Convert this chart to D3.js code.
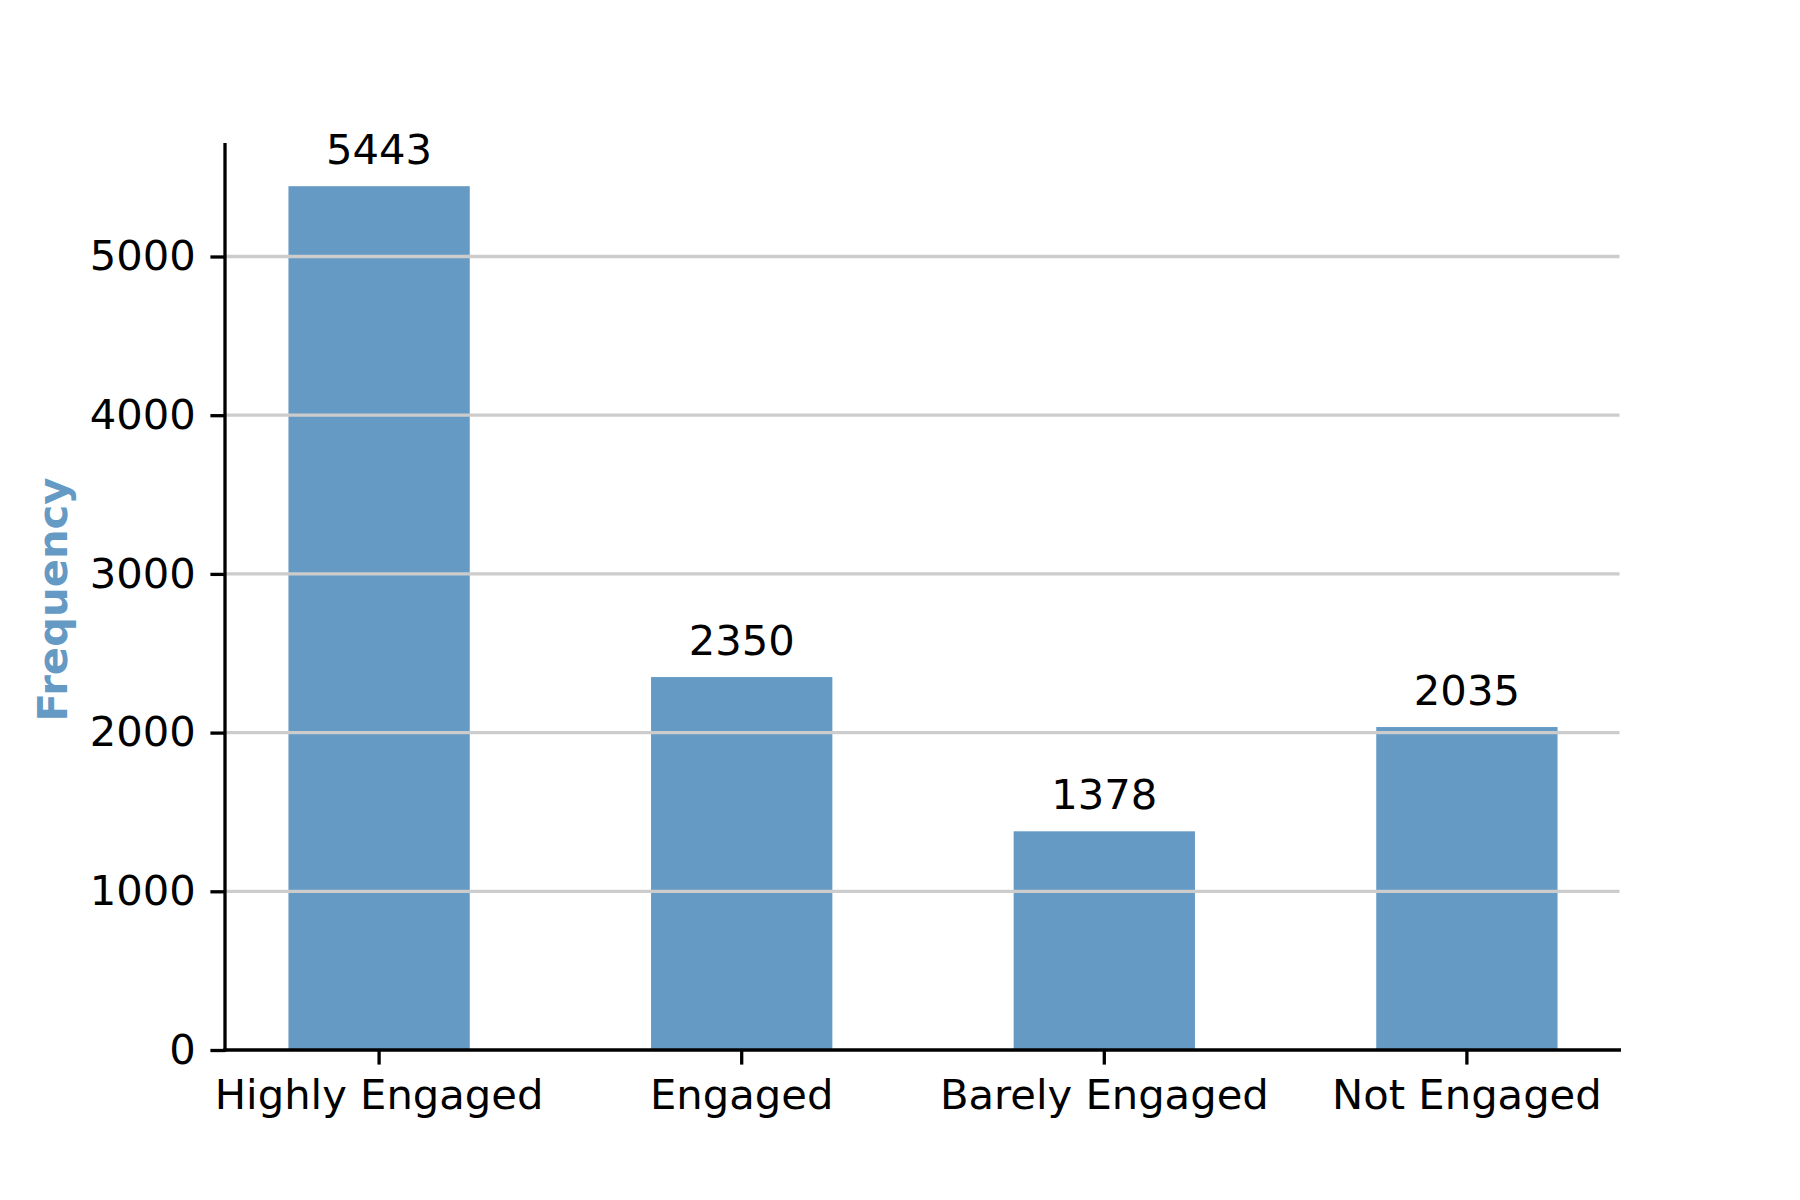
<!DOCTYPE html>
<html>
<head>
<meta charset="utf-8">
<script src="https://cdn.jsdelivr.net/npm/d3@7"></script>
<style>
  body { margin: 0; background: #fff; }
  svg { display: block; font-family: "DejaVu Sans", sans-serif; }
</style>
</head>
<body>
<div id="chart"></div>
<script>
// chart data
const categories = ["Highly Engaged", "Engaged", "Barely Engaged", "Not Engaged"];
const frequencies = [5443, 2350, 1378, 2035];
const yTicks = [0, 1000, 2000, 3000, 4000, 5000];

const width = 1800, height = 1200;
const plotLeft = 225, plotRight = 1621, plotTop = 143, plotBottom = 1050;
const fontSize = 41.7;
const barColor = "#659ac5";

const svg = d3.select("#chart").append("svg")
    .attr("width", width)
    .attr("height", height);

let x = d3.scaleBand()
    .domain(categories)
    .range([plotLeft, plotRight])
    .paddingInner(0.5)
    .paddingOuter(0.175);

let y = d3.scaleLinear()
    .domain([0, d3.max(frequencies) * 1.05])
    .range([plotBottom, plotTop]);

// bars
svg.append("g").selectAll("rect")
    .data(frequencies)
    .enter()
    .append("rect")
    .attr("x", (d, i) => x(categories[i]))
    .attr("y", d => y(d))
    .attr("width", x.bandwidth())
    .attr("height", d => y(0) - y(d))
    .attr("fill", barColor);

// gridlines, drawn over the bars
svg.append("g").selectAll("line")
    .data(yTicks.filter(t => t > 0))
    .enter()
    .append("line")
    .attr("x1", plotLeft)
    .attr("x2", plotRight - 1.5)
    .attr("y1", d => y(d))
    .attr("y2", d => y(d))
    .attr("stroke", "#cccccc")
    .attr("stroke-width", 3.3);

// value labels
svg.append("g").selectAll("text")
    .data(frequencies)
    .enter()
    .append("text")
    .attr("x", (d, i) => x(categories[i]) + x.bandwidth() / 2)
    .attr("y", d => y(d) - 22)
    .attr("text-anchor", "middle")
    .attr("font-size", fontSize)
    .attr("fill", "#000")
    .text(d => d);

// y axis
let yAxis = svg.append("g")
    .attr("transform", "translate(" + plotLeft + ",0)")
    .call(d3.axisLeft(y).tickValues(yTicks).tickFormat(d3.format("d"))
        .tickSize(14.6).tickPadding(14.6).tickSizeOuter(0));
yAxis.select(".domain").remove();
yAxis.selectAll(".tick line").attr("stroke", "#000").attr("stroke-width", 3.3);
yAxis.selectAll(".tick text")
    .attr("font-size", fontSize)
    .attr("font-family", "DejaVu Sans")
    .attr("fill", "#000");
svg.append("line")
    .attr("x1", plotLeft).attr("x2", plotLeft)
    .attr("y1", plotTop).attr("y2", plotBottom + 1.65)
    .attr("stroke", "#000").attr("stroke-width", 3.3);

// x axis
let xAxis = svg.append("g")
    .attr("transform", "translate(0," + plotBottom + ")")
    .call(d3.axisBottom(x).tickSize(14.6).tickPadding(14.6).tickSizeOuter(0));
xAxis.select(".domain").remove();
xAxis.selectAll(".tick line").attr("stroke", "#000").attr("stroke-width", 3.3);
xAxis.selectAll(".tick text")
    .attr("font-size", fontSize)
    .attr("font-family", "DejaVu Sans")
    .attr("fill", "#000");
svg.append("line")
    .attr("x1", plotLeft - 1.65).attr("x2", plotRight)
    .attr("y1", plotBottom).attr("y2", plotBottom)
    .attr("stroke", "#000").attr("stroke-width", 3.3);

// y label
svg.append("text")
    .attr("transform", "translate(67," + ((plotTop + plotBottom) / 2 + 3) + ") rotate(-90)")
    .attr("text-anchor", "middle")
    .attr("font-size", fontSize)
    .attr("font-weight", "bold")
    .attr("fill", barColor)
    .text("Frequency");
</script>
</body>
</html>
